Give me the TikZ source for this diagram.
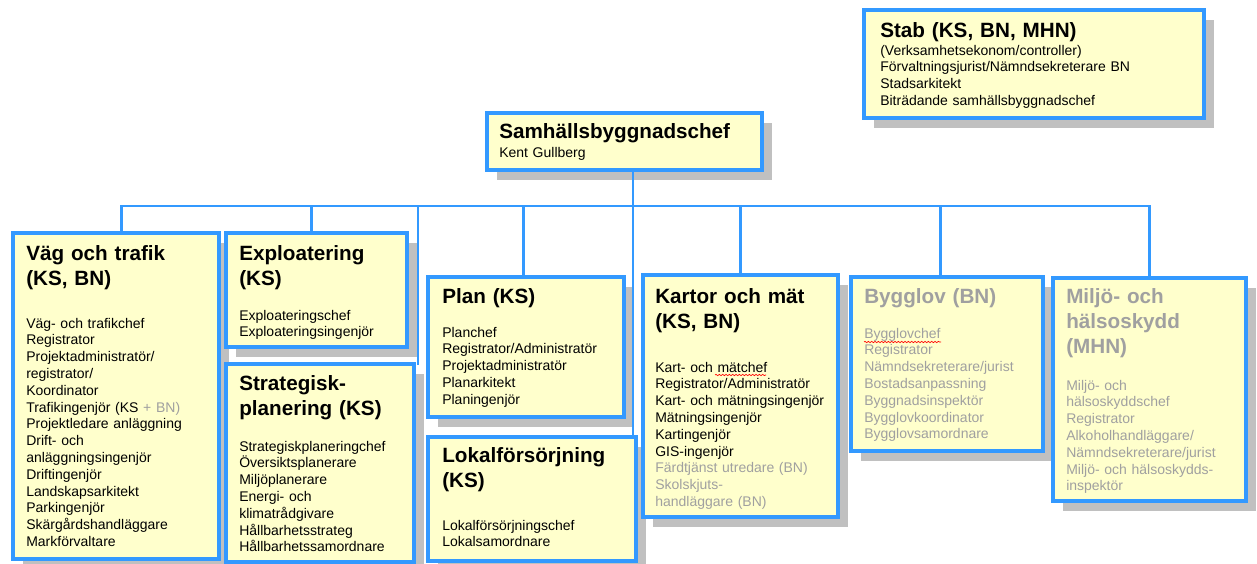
\documentclass[tikz,border=0pt]{standalone}
\usepackage{fontspec}
\setmainfont{Liberation Sans}
\usepackage{xcolor}
\usetikzlibrary{fit,decorations.pathmorphing}
\definecolor{boxblue}{RGB}{51,153,255}
\definecolor{boxfill}{RGB}{255,255,204}
\definecolor{shadowgrey}{RGB}{192,192,192}
\definecolor{txtgrey}{RGB}{160,160,160}
\pgfdeclarelayer{shadelayer}
\pgfdeclarelayer{linelayer}
\pgfsetlayers{shadelayer,linelayer,main}
\tikzset{
  unit/.style={draw=boxblue, line width=3pt, fill=boxfill, inner sep=0pt, outer sep=0pt},
  link/.style={draw=boxblue, line width=2.2pt, line cap=rect},
  head/.style={anchor=base west, inner sep=0pt, text width=200pt, align=left, font=\bfseries\fontsize{15.5}{18.75}\selectfont},
  staff/.style={anchor=base west, inner sep=0pt, text width=200pt, align=left, font=\fontsize{10.5}{12.6}\selectfont},
  greyed/.style={text=txtgrey},
  spell/.style={draw=red, line width=0.5pt, decorate, decoration={snake, amplitude=0.5pt, segment length=2.5pt}}
}

\begin{document}
\begin{tikzpicture}[x=0.75pt,y=-0.75pt]
        \useasboundingbox (0,0) rectangle (1257,564);
        % rutor
        \node[unit, fit={(487,113) (762,170)}] (chef) {}; %Samhällsbyggnadschef
        \node[unit, fit={(864,10) (1204,118)}] (stab) {}; %Stab
        \node[unit, fit={(13,233) (219,559)}] (vag) {}; %Väg och trafik
        \node[unit, fit={(226,233) (407,347)}] (explo) {}; %Exploatering
        \node[unit, fit={(226,364) (414,562)}] (strat) {}; %Strategisk planering
        \node[unit, fit={(428,277) (624,417)}] (plan) {}; %Plan
        \node[unit, fit={(428,437) (636,561)}] (lokal) {}; %Lokalförsörjning
        \node[unit, fit={(643,275) (838,517)}] (kartor) {}; %Kartor och mät
        \node[unit, fit={(851,277) (1043,451)}] (bygg) {}; %Bygglov
        \node[unit, fit={(1053,278) (1246,501)}] (miljo) {}; %Miljö- och hälsoskydd
        % skuggor
        \begin{pgfonlayer}{shadelayer}
        \foreach \b in {chef,stab,vag,explo,strat,plan,lokal,kartor,bygg,miljo}
            \fill[shadowgrey] ([shift={(10,10)}]\b.north west) rectangle ([shift={(10,10)}]\b.south east);
        \end{pgfonlayer}
        % linjer
        \coordinate (trunk) at (633,206);
        \begin{pgfonlayer}{linelayer}
        \draw[link] (chef.south -| trunk) -- (trunk |- lokal.north);
        \draw[link] ([xshift=4]vag.north |- trunk) -- (miljo.north |- trunk);
        \foreach \b/\dx in {vag/4,explo/-4,plan/-2,kartor/0,bygg/-5,miljo/0}
            \draw[link] ([xshift=\dx]\b.north |- trunk) -- ([xshift=\dx]\b.north);
        \draw[link] ([xshift=3]strat.north east |- trunk) -- ([xshift=3]strat.north east);
        \end{pgfonlayer}
        % texter
        \node[head] (chefT) at ([shift={(12,25)}]chef.north west) {Samhällsbyggnadschef};
        \node[staff] (chefB) at ([shift={(12,44)}]chef.north west) {Kent Gullberg};
        \node[head] (stabT) at ([shift={(16,27)}]stab.north west) {Stab (KS, BN, MHN)};
        \node[staff] (stabB) at ([shift={(16,45)}]stab.north west) {(Verksamhetsekonom/controller)\\Förvaltningsjurist/Nämndsekreterare BN\\Stadsarkitekt\\Biträdande samhällsbyggnadschef};
        \node[head] (vagT) at ([shift={(13,27)}]vag.north west) {Väg och trafik\\(KS, BN)};
        \node[staff] (vagB) at ([shift={(13,95)}]vag.north west) {Väg- och trafikchef\\Registrator\\Projektadministratör/\\registrator/\\Koordinator\\Trafikingenjör (KS {\color{txtgrey}+ BN)}\\Projektledare anläggning\\Drift- och\\anläggningsingenjör\\Driftingenjör\\Landskapsarkitekt\\Parkingenjör\\Skärgårdshandläggare\\Markförvaltare};
        \node[head] (exploT) at ([shift={(13,27)}]explo.north west) {Exploatering\\(KS)};
        \node[staff] (exploB) at ([shift={(13,87)}]explo.north west) {Exploateringschef\\Exploateringsingenjör};
        \node[head] (stratT) at ([shift={(13,26)}]strat.north west) {Strategisk-\\planering (KS)};
        \node[staff] (stratB) at ([shift={(13,87)}]strat.north west) {Strategiskplaneringchef\\Översiktsplanerare\\Miljöplanerare\\Energi- och\\klimatrådgivare\\Hållbarhetsstrateg\\Hållbarhetssamordnare};
        \node[head] (planT) at ([shift={(14,26)}]plan.north west) {Plan (KS)};
        \node[staff] (planB) at ([shift={(14,60)}]plan.north west) {Planchef\\Registrator/Administratör\\Projektadministratör\\Planarkitekt\\Planingenjör};
        \node[head] (lokalT) at ([shift={(14,25)}]lokal.north west) {Lokalförsörjning\\(KS)};
        \node[staff] (lokalB) at ([shift={(14,93)}]lokal.north west) {Lokalförsörjningschef\\Lokalsamordnare};
        \node[head] (kartorT) at ([shift={(12,28)}]kartor.north west) {Kartor och mät\\(KS, BN)};
        \node[staff] (kartorB) at ([shift={(12,97)}]kartor.north west) {Kart- och mätchef\\Registrator/Administratör\\Kart- och mätningsingenjör\\Mätningsingenjör\\Kartingenjör\\GIS-ingenjör\\{\color{txtgrey}Färdtjänst utredare (BN)}\\{\color{txtgrey}Skolskjuts-}\\{\color{txtgrey}handläggare (BN)}};
        \node[head, greyed] (byggT) at ([shift={(13,26)}]bygg.north west) {Bygglov (BN)};
        \node[staff, greyed] (byggB) at ([shift={(13,61)}]bygg.north west) {Bygglovchef\\Registrator\\Nämndsekreterare/jurist\\Bostadsanpassning\\Byggnadsinspektör\\Bygglovkoordinator\\Bygglovsamordnare};
        \node[head, greyed] (miljoT) at ([shift={(13,25)}]miljo.north west) {Miljö- och\\hälsoskydd\\(MHN)};
        \node[staff, greyed] (miljoB) at ([shift={(13,112)}]miljo.north west) {Miljö- och\\hälsoskyddschef\\Registrator\\Alkoholhandläggare/\\Nämndsekreterare/jurist\\Miljö- och hälsoskydds-\\inspektör};
        % stavningsmarkering
        \draw[spell] (715,375) -- (766,375); %mätchef
        \draw[spell] (864,342) -- (941,342); %Bygglovchef
\end{tikzpicture}
\end{document}
